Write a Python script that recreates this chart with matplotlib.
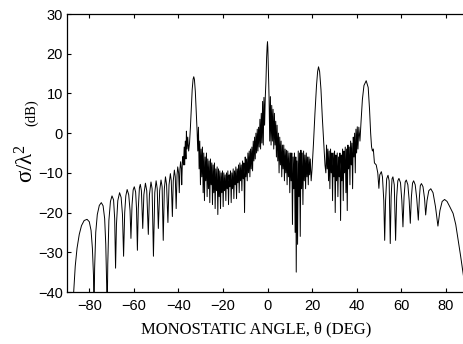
import numpy as np
import matplotlib
matplotlib.use('Agg')
import matplotlib.pyplot as plt

# ------------------------------- DATA -------------------------------
# (angle in deg, sigma/lambda^2 in dB)

# wide sidelobes on the left, -90 to -36 deg
leftLobes = [(-88.0, -48), (-87.0, -40), (-86.3, -33.5), (-85.5, -29), (-84.5, -25.5),
             (-83.5, -23.3), (-82.3, -22.0), (-81.0, -21.7), (-80.0, -22.3), (-79.2, -24.5),
             (-78.6, -29), (-78.1, -36), (-77.9, -48),
             (-77.6, -34), (-77.1, -25), (-76.4, -20.5), (-75.5, -18.2), (-74.6, -17.5),
             (-73.8, -18.3), (-73.1, -21.5), (-72.6, -28), (-72.2, -38), (-72.0, -48),
             (-71.7, -33), (-71.2, -22), (-70.5, -17.2), (-69.8, -15.8), (-69.1, -16.8),
             (-68.6, -21.5), (-68.2, -34),
             (-67.8, -23), (-67.2, -17), (-66.4, -15.0), (-65.7, -16.2), (-65.1, -20.5), (-64.6, -31),
             (-64.1, -20), (-63.6, -15.8), (-63.0, -14.2), (-62.3, -15.5), (-61.7, -19.5), (-61.3, -26.5),
             (-60.8, -18), (-60.3, -14.3), (-59.8, -13.5), (-59.2, -14.8), (-58.8, -19), (-58.4, -29.5),
             (-58.0, -19), (-57.5, -13.8), (-57.1, -12.9), (-56.6, -14.5), (-56.0, -24),
             (-55.5, -15.5), (-54.8, -12.6), (-54.2, -14.5), (-53.5, -25.5),
             (-53.0, -15.5), (-52.3, -12.3), (-51.8, -14), (-51.2, -31),
             (-50.6, -15), (-50.0, -12.0), (-49.5, -14), (-49.0, -24),
             (-48.4, -14.5), (-47.8, -11.8), (-47.3, -13.5), (-46.8, -27),
             (-46.3, -14), (-45.8, -11.0), (-45.3, -13), (-44.7, -22.5),
             (-44.2, -13), (-43.6, -10.2), (-43.2, -12), (-42.7, -21),
             (-42.3, -12), (-41.8, -9.3), (-41.4, -11), (-41.0, -19),
             (-40.6, -10.5), (-40.3, -8.5), (-39.9, -10), (-39.6, -15), (-39.3, -9), (-39.0, -7.2),
             (-38.7, -9), (-38.5, -13), (-38.2, -7), (-38.0, -5.9), (-37.7, -8), (-37.4, -3.5),
             (-37.2, -8), (-36.9, -2), (-36.6, -6.5), (-36.4, 0.5), (-36.1, -4), (-35.8, -1)]

# specular lobe near -33 deg
lobeM33 = [(-35.4, -4.5), (-35.0, -2.5), (-34.6, 1.5), (-34.2, 6.5), (-33.8, 11.0), (-33.4, 13.6),
           (-33.1, 14.2), (-32.8, 13.5), (-32.4, 10.5), (-32.0, 5.5), (-31.6, 0.5), (-31.3, -4.5)]

# dense ripple between -31 and -1.5 deg
rippleA = [(-31.0, 1.5), (-30.7, -9), (-30.4, -2), (-30.1, -13), (-29.8, -4), (-29.5, -11),
           (-29.2, -3.5), (-28.9, -15), (-28.6, -5), (-28.3, -17), (-28.0, -6), (-27.7, -12),
           (-27.4, -5), (-27.1, -16), (-26.8, -6.5), (-26.5, -14), (-26.2, -7), (-25.9, -17.5),
           (-25.6, -6.5), (-25.3, -13), (-25.0, -7.5), (-24.7, -18), (-24.4, -8), (-24.1, -15),
           (-23.8, -7.5), (-23.5, -19), (-23.2, -9), (-22.9, -14.5), (-22.6, -8.5), (-22.3, -20.5),
           (-22.0, -9), (-21.7, -16), (-21.4, -9.5), (-21.1, -19), (-20.8, -10), (-20.5, -15),
           (-20.2, -9.5), (-19.9, -18.5), (-19.6, -10), (-19.3, -14.5), (-19.0, -10.5), (-18.7, -17),
           (-18.4, -10), (-18.1, -14), (-17.8, -9.5), (-17.5, -18), (-17.2, -10.5), (-16.9, -13.5),
           (-16.6, -9.5), (-16.3, -17.5), (-16.0, -10), (-15.7, -14), (-15.4, -9), (-15.1, -16.5),
           (-14.8, -9.5), (-14.5, -13), (-14.2, -8.5), (-13.9, -16.5), (-13.6, -9), (-13.3, -12.5),
           (-13.0, -8), (-12.7, -15), (-12.4, -7.5), (-12.1, -12), (-11.8, -8), (-11.5, -14.5),
           (-11.2, -7), (-10.9, -11.5), (-10.6, -7.5), (-10.3, -20), (-10.0, -6), (-9.7, -11),
           (-9.4, -6.5), (-9.1, -12), (-8.8, -5), (-8.5, -10), (-8.2, -4.5), (-7.9, -11),
           (-7.6, -4), (-7.3, -9), (-7.0, -3.5), (-6.7, -9.5), (-6.4, -2), (-6.1, -7),
           (-5.8, -1), (-5.5, -6.5), (-5.2, 0), (-4.9, -5), (-4.6, 1), (-4.3, -4.5),
           (-4.0, 1.5), (-3.7, -3.5), (-3.4, 3.5), (-3.1, -4), (-2.8, 5), (-2.5, -2.5),
           (-2.2, 8), (-1.9, -3), (-1.6, 9)]

# broadside lobe at 0 deg
lobe0 = [(-1.3, 2), (-1.0, 9), (-0.7, 13), (-0.4, 19), (-0.15, 22), (0.0, 23.0), (0.15, 21.5),
         (0.4, 16), (0.7, 9), (1.0, -2), (1.3, 9.2), (1.6, -3)]

# ripple between 2 and 20 deg (deep null near 13)
rippleB = [(1.9, 7), (2.2, -2), (2.5, 6), (2.8, -4), (3.1, 5), (3.4, -3), (3.7, 3), (4.0, -6),
           (4.3, 2), (4.6, -7), (4.9, 0), (5.2, -10), (5.5, -1), (5.8, -8), (6.1, -2), (6.4, -11),
           (6.7, -3), (7.0, -9), (7.3, -3), (7.6, -12), (7.9, -4), (8.2, -10), (8.5, -4.3), (8.8, -13),
           (9.1, -4.5), (9.4, -11), (9.7, -5), (10.0, -15), (10.3, -5), (10.6, -12), (10.9, -5),
           (11.2, -23), (11.5, -6), (11.8, -14), (12.1, -5), (12.4, -25), (12.7, -6), (12.9, -35),
           (13.2, -7), (13.5, -28), (13.8, -4.5), (14.1, -16), (14.4, -5), (14.7, -26), (15.0, -4.3),
           (15.3, -14), (15.6, -5), (15.9, -18), (16.2, -4.5), (16.5, -12), (16.8, -5.5), (17.1, -14),
           (17.4, -5), (17.7, -11), (18.0, -6), (18.3, -13), (18.6, -6), (18.9, -10.5), (19.2, -6.5),
           (19.6, -12)]

# lobe at 23 deg
lobe23 = [(20.0, -9), (20.6, -3), (21.3, 5), (22.0, 12), (22.5, 15.5), (22.9, 16.7), (23.4, 15.5),
          (24.0, 11), (24.6, 4), (25.3, -3), (25.8, -8), (26.2, -10)]

# ripple between 26 and 41 deg
rippleC = [(26.5, -3), (26.8, -9), (27.1, -4), (27.4, -12), (27.7, -4.5), (28.0, -14), (28.3, -4),
           (28.6, -10), (28.9, -5), (29.2, -17), (29.5, -5), (29.8, -11), (30.1, -4.5), (30.4, -20),
           (30.7, -5.5), (31.0, -12), (31.3, -5), (31.6, -16), (31.9, -6), (32.2, -11), (32.5, -5),
           (32.8, -22), (33.1, -5.5), (33.4, -12), (33.7, -4), (34.0, -17), (34.3, -4.5), (34.6, -10),
           (34.9, -3.5), (35.2, -15), (35.5, -4), (35.8, -19.5), (36.1, -3), (36.4, -9), (36.7, -3.5),
           (37.0, -13), (37.3, -2), (37.6, -8), (37.9, -2.5), (38.2, -14), (38.5, -1), (38.8, -6),
           (39.1, 0), (39.4, -10), (39.7, 1), (40.0, -5), (40.3, 1.6), (40.6, -4)]

# lobe at 44 deg
lobe44 = [(41.0, 1.5), (41.5, -2), (42.0, 3), (42.6, 8.5), (43.3, 12), (44.3, 13.2), (45.2, 11.5),
          (45.8, 6), (46.3, 0), (46.7, -3.4), (47.1, -4.5), (47.5, -4.0), (48.0, -7.5), (48.8, -8.0),
          (49.5, -10), (50.0, -13.9)]

# regular sidelobes on the right, 50 to 90 deg
rightLobes = [(50.4, -10.5), (51.1, -9.7), (51.6, -11), (52.2, -17), (52.6, -27),
              (53.0, -17), (53.5, -11.5), (54.1, -10.6), (54.6, -12), (55.1, -27.8),
              (55.5, -16), (55.9, -11.5), (56.3, -11.0), (56.9, -13), (57.5, -27.0),
              (58.0, -16), (58.5, -12), (59.0, -11.4), (59.7, -12.5), (60.3, -17), (60.8, -23.6),
              (61.3, -16), (61.8, -12.3), (62.3, -11.8), (63.0, -13), (63.6, -17), (64.1, -22.7),
              (64.6, -16), (65.1, -12.6), (65.6, -12.0), (66.3, -13), (67.0, -16.5), (67.7, -21.9),
              (68.2, -16), (68.6, -13.2), (69.1, -12.7), (69.8, -13.5), (70.5, -16.5), (71.0, -20.6),
              (71.6, -17), (72.4, -14.5), (73.3, -14.0), (74.3, -15), (75.4, -18.5), (76.5, -23.4),
              (77.4, -19.5), (78.4, -17.2), (79.5, -16.7), (80.6, -17.2), (81.8, -18.5), (83.3, -20.2),
              (84.5, -23), (85.6, -27), (86.7, -31), (87.8, -35.3), (89.0, -40), (90.0, -45)]

segments = [leftLobes, lobeM33, rippleA, lobe0, rippleB, lobe23, rippleC, lobe44, rightLobes]

xTicks = [-80, -60, -40, -20, 0, 20, 40, 60, 80]
yTicks = [-40, -30, -20, -10, 0, 10, 20, 30]


def driver():
    angle, rcs = joinSegments(segments)
    fig, ax = makeAxes()
    plotRcs(ax, angle, rcs)
    fig.savefig('out.png', dpi=100)


# ------------------------------- DATA PREP -------------------------------
def joinSegments(segs):
    pts = np.array([p for s in segs for p in s], dtype=float)
    return pts[:, 0], pts[:, 1]


# ------------------------------- PLOTS -------------------------------
def makeAxes():
    fig = plt.figure(figsize=(4.63, 3.44))
    # right spine sits just past the edge of the picture
    ax = fig.add_axes([67 / 463, 52 / 344, 401 / 463, 278 / 344])
    return fig, ax


def plotRcs(ax, angle, rcs):
    ax.plot(angle, rcs, color='black', lw=0.7)
    ax.axis([-90, 90, -40, 30])
    ax.set_xticks(xTicks)
    ax.set_yticks(yTicks)
    for lab in ax.get_xticklabels() + ax.get_yticklabels():
        lab.set_family('Liberation Sans')
        lab.set_fontsize(10.5)
    ax.tick_params(direction='in', length=3, width=0.8, top=True)
    ax.tick_params(axis='x', pad=5)
    ax.tick_params(axis='y', pad=3)
    for sp in ax.spines.values():
        sp.set_linewidth(0.9)

    fig = ax.figure
    fig.text(256 / 463, 1 - 329 / 344, 'MONOSTATIC ANGLE, \u03b8 (DEG)',
             family='Liberation Serif', fontsize=12, ha='center', va='center')
    fig.text(27 / 463, 1 - 163 / 344, '$\\mathregular{\u03c3/\u03bb^2}$',
             family='Liberation Serif', fontsize=16.5, rotation=90, ha='center', va='center')
    fig.text(32 / 463, 1 - 113 / 344, '(dB)', family='Liberation Serif', fontsize=10.5,
             rotation=90, ha='center', va='center')


if __name__ == '__main__':
    driver()
